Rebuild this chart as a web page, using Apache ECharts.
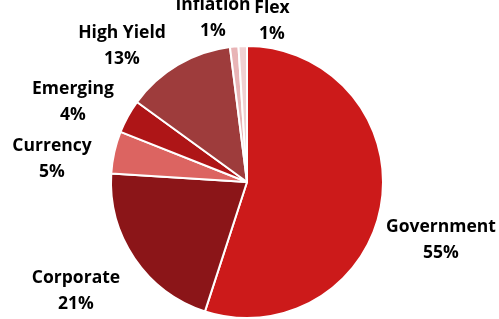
<!DOCTYPE html>
<html>
<head>
<meta charset="utf-8">
<script src="https://cdn.jsdelivr.net/npm/echarts@6/dist/echarts.min.js"></script>
<style>
  html, body { margin: 0; padding: 0; background: #fff; }
  #chart { width: 499px; height: 319px; }
</style>
</head>
<body>
<div id="chart"></div>
<script>
// sectors, clockwise from 12 o'clock
const sectors = ['Government', 'Corporate', 'Currency', 'Emerging', 'High Yield', 'Inflation', 'Flex']
const shares = [55, 21, 5, 4, 13, 1, 1]
const colors = ['#CC1A1A', '#8B1518', '#DC6461', '#AE1517', '#9E3C3C', '#E8B4B6', '#F0D0D2']

// where each label block sits (center of text)
const labelSpots = [
  [441, 240], [76, 291], [52, 159], [73, 102], [122, 46], [213, 18], [272, 21]
]

const chart = echarts.init(document.getElementById('chart'))

chart.setOption({
  animation: false,
  series: [
    {
      type: 'pie',
      center: [247, 182],
      radius: 136,
      startAngle: 90,
      clockwise: true,
      avoidLabelOverlap: false,
      itemStyle: {
        borderColor: '#fff',
        borderWidth: 2
      },
      label: {
        show: true,
        position: 'outside',
        color: '#000',
        fontFamily: 'Open Sans',
        fontWeight: 'bold',
        fontSize: 17.5,
        lineHeight: 26,
        align: 'center',
        formatter: (p) => p.name + '\n' + Math.round(p.percent) + '%'
      },
      labelLine: { show: false },
      labelLayout: (params) => ({
        x: labelSpots[params.dataIndex][0],
        y: labelSpots[params.dataIndex][1],
        align: 'center',
        verticalAlign: 'middle'
      }),
      data: sectors.map((name, i) => ({
        name: name,
        value: shares[i],
        itemStyle: { color: colors[i] }
      }))
    }
  ]
})
</script>
</body>
</html>
